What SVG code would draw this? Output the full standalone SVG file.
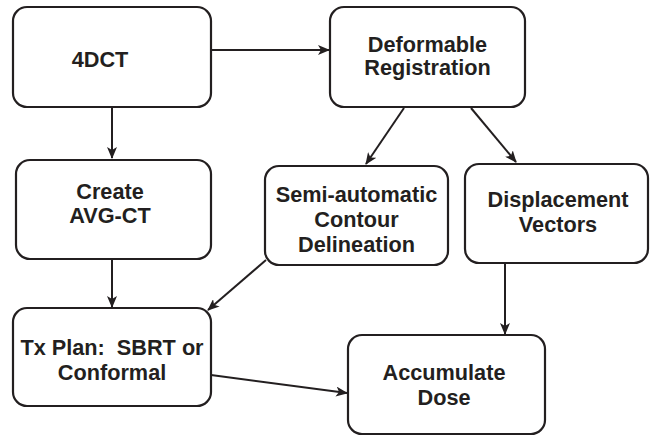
<svg xmlns="http://www.w3.org/2000/svg" width="652" height="437" viewBox="0 0 652 437">
<style>
.box{fill:#fff;stroke:#231f20;stroke-width:2.2}
.t{font-family:"Liberation Sans",Arial,sans-serif;font-weight:bold;font-size:21.7px;fill:#231f20;text-anchor:middle;white-space:pre}
.c{fill:none;stroke:#231f20;stroke-width:2;marker-end:url(#ah)}
</style>
<defs>
<marker id="ah" viewBox="0 0 12 10" refX="11" refY="5" markerWidth="12" markerHeight="10" markerUnits="userSpaceOnUse" orient="auto">
<path d="M0,0 L12,5 L0,10 L3,5 z" fill="#231f20"/>
</marker>
</defs>
<rect width="652" height="437" fill="#fff"/>
<g id="n4dct"><rect class="box" x="13" y="7" width="198" height="100" rx="14"/><text class="t" x="100" y="67">4DCT</text></g>
<g id="ndeform"><rect class="box" x="330" y="7" width="195" height="100" rx="14"/><text class="t" x="427.5" y="52">Deformable</text><text class="t" x="427.5" y="75">Registration</text></g>
<g id="navg"><rect class="box" x="16" y="160" width="195" height="99" rx="14"/><text class="t" x="110" y="199">Create</text><text class="t" x="110" y="223">AVG-CT</text></g>
<g id="nsemi"><rect class="box" x="265" y="166" width="183" height="99" rx="14"/><text class="t" x="356.5" y="202">Semi-automatic</text><text class="t" x="356.5" y="227">Contour</text><text class="t" x="356.5" y="252">Delineation</text></g>
<g id="ndisp"><rect class="box" x="465" y="164" width="183" height="99" rx="14"/><text class="t" x="558" y="207">Displacement</text><text class="t" x="558" y="232">Vectors</text></g>
<g id="ntx"><rect class="box" x="13" y="308" width="198" height="98" rx="14"/><text class="t" x="112" y="355">Tx Plan:  SBRT or</text><text class="t" x="112" y="380">Conformal</text></g>
<g id="nacc"><rect class="box" x="348" y="335" width="197" height="99" rx="14"/><text class="t" x="444" y="380">Accumulate</text><text class="t" x="444" y="405">Dose</text></g>
<g id="connectors">
<line class="c" x1="211" y1="50" x2="329" y2="50"/>
<line class="c" x1="112" y1="108" x2="112" y2="158"/>
<line class="c" x1="404" y1="108" x2="366" y2="164"/>
<line class="c" x1="471" y1="108" x2="516" y2="162"/>
<line class="c" x1="112" y1="260" x2="112" y2="307"/>
<line class="c" x1="266" y1="260" x2="208" y2="310"/>
<line class="c" x1="211" y1="375" x2="347" y2="393"/>
<line class="c" x1="505" y1="263" x2="505" y2="334"/>
</g>
</svg>
